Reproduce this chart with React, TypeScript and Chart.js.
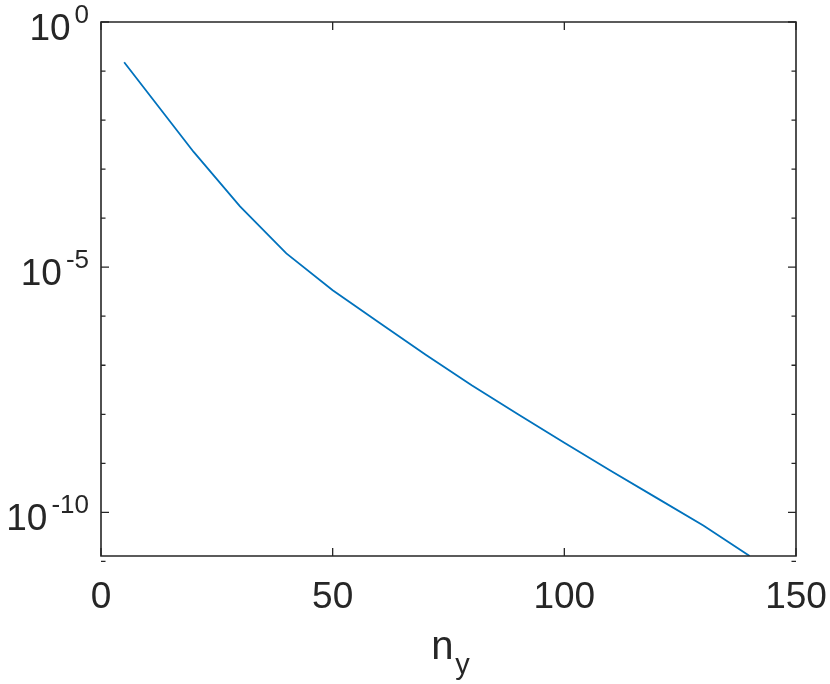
import React, { useEffect, useRef } from "react";
import { Chart, registerables } from "chart.js";

Chart.register(...registerables);

// n_y values
const nyValues: number[] = [5, 20, 30, 40, 50, 60, 70, 80, 90, 100, 110, 120, 130, 140];
// error values (log scale)
const errValues: number[] = [
  0.1514, 2.239e-3, 1.738e-4, 1.905e-5, 3.388e-6, 7.413e-7, 1.66e-7, 3.89e-8,
  1.0e-8, 2.63e-9, 7.08e-10, 1.95e-10, 5.37e-11, 1.288e-11,
];
const xTickValues: number[] = [0, 50, 100, 150];
const xTickLabels: string[] = ["0", "50", "100", "150"];
const yTickValues: number[] = [1, 1e-5, 1e-10];
const yTickExponents: string[] = ["0", "-5", "-10"];
const yMinorValues: number[] = [1e-1, 1e-2, 1e-3, 1e-4, 1e-6, 1e-7, 1e-8, 1e-9, 1e-11];
const X_MIN = 0;
const X_MAX = 150;
const Y_MIN = 1.288e-11;
const Y_MAX = 1;
const xTitleMain = "n";
const xTitleSub = "y";

const AXIS_COLOR = "#262626";
const LINE_COLOR = "#0072BD";
const FONT = "'Liberation Sans', Arial, Helvetica, sans-serif";

const axesPlugin = {
  id: "matlabAxes",
  afterDraw(chart: any) {
    const ctx: CanvasRenderingContext2D = chart.ctx;
    const { left, right, top, bottom } = chart.chartArea;
    const xs = chart.scales.x;
    const ys = chart.scales.y;
    ctx.save();
    ctx.strokeStyle = AXIS_COLOR;
    ctx.lineWidth = 1.6;
    ctx.beginPath();
    ctx.rect(left, top, right - left, bottom - top);
    ctx.stroke();

    ctx.lineWidth = 1.3;
    const majorLen = 8;
    const minorLen = 4.5;
    ctx.beginPath();
    xTickValues.forEach((v) => {
      const px = xs.getPixelForValue(v);
      ctx.moveTo(px, bottom);
      ctx.lineTo(px, bottom - majorLen);
      ctx.moveTo(px, top);
      ctx.lineTo(px, top + majorLen);
    });
    yTickValues.forEach((v) => {
      const py = ys.getPixelForValue(v);
      ctx.moveTo(left, py);
      ctx.lineTo(left + majorLen, py);
      ctx.moveTo(right, py);
      ctx.lineTo(right - majorLen, py);
    });
    yMinorValues.forEach((v) => {
      const py = ys.getPixelForValue(v);
      ctx.moveTo(left, py);
      ctx.lineTo(left + minorLen, py);
      ctx.moveTo(right, py);
      ctx.lineTo(right - minorLen, py);
    });
    ctx.stroke();

    ctx.fillStyle = AXIS_COLOR;
    ctx.textBaseline = "alphabetic";
    // x tick labels
    ctx.font = `37px ${FONT}`;
    ctx.textAlign = "center";
    xTickValues.forEach((v, i) => {
      const px = xs.getPixelForValue(v);
      ctx.fillText(xTickLabels[i], px, bottom + 51.5);
    });

    // y tick labels: 10^exp
    yTickValues.forEach((v, i) => {
      const py = ys.getPixelForValue(v);
      const sup = yTickExponents[i];
      ctx.font = `26px ${FONT}`;
      const supW = ctx.measureText(sup).width;
      ctx.font = `37px ${FONT}`;
      const baseW = ctx.measureText("10").width;
      const rightEdge = left - 12;
      const supX = rightEdge - supW;
      const baseX = supX - 4 - baseW;
      ctx.textAlign = "left";
      ctx.font = `37px ${FONT}`;
      ctx.fillText("10", baseX, py + 18);
      ctx.font = `26px ${FONT}`;
      ctx.fillText(sup, supX, py + 1);
    });

    // x title n_y
    ctx.font = `40px ${FONT}`;
    const nW = ctx.measureText(xTitleMain).width;
    ctx.font = `29px ${FONT}`;
    const yW = ctx.measureText(xTitleSub).width;
    const cx = (left + right) / 2 + 2;
    const startX = cx - (nW + 2 + yW) / 2;
    ctx.textAlign = "left";
    ctx.font = `40px ${FONT}`;
    ctx.fillText(xTitleMain, startX, bottom + 103);
    ctx.font = `29px ${FONT}`;
    ctx.fillText(xTitleSub, startX + nW + 2, bottom + 118);
    ctx.restore();
  },
};

export default function App() {
  const canvasRef = useRef<HTMLCanvasElement | null>(null);

  useEffect(() => {
    if (!canvasRef.current) return;
    const chart = new Chart(canvasRef.current, {
      type: "line",
      data: {
        datasets: [
          {
            data: nyValues.map((x, i) => ({ x, y: errValues[i] })),
            borderColor: LINE_COLOR,
            borderWidth: 1.8,
            pointRadius: 0,
            tension: 0,
            fill: false,
          },
        ],
      },
      options: {
        responsive: false,
        animation: false,
        devicePixelRatio: 1,
        layout: { padding: { left: 101, top: 22, right: 34, bottom: 128 } },
        plugins: { legend: { display: false }, tooltip: { enabled: false } },
        scales: {
          x: { type: "linear", min: X_MIN, max: X_MAX, display: false },
          y: { type: "logarithmic", min: Y_MIN, max: Y_MAX, display: false },
        },
      },
      plugins: [axesPlugin],
    });
    return () => chart.destroy();
  }, []);

  return (
    <div style={{ position: "absolute", left: 0, top: 0, width: 830, height: 684, background: "#fff" }}>
      <canvas ref={canvasRef} width={830} height={684} style={{ display: "block" }} />
    </div>
  );
}
